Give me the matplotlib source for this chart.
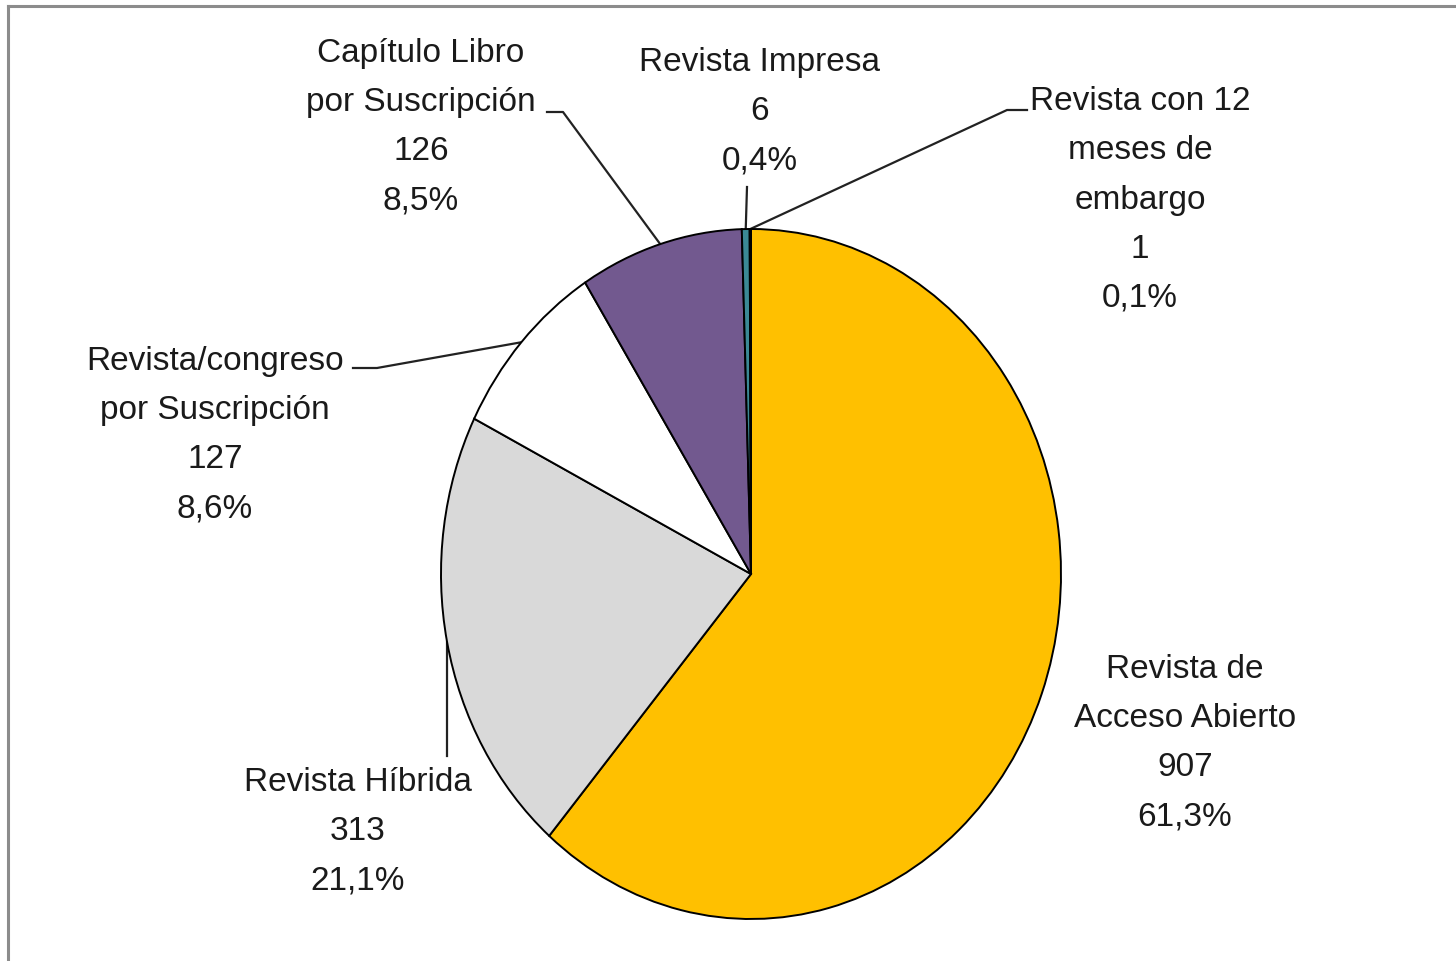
import matplotlib.pyplot as plt
import numpy as np

# slices, clockwise from 12 o'clock
categories = ["Revista de\nAcceso Abierto", "Revista Híbrida", "Revista/congreso\npor Suscripción",
              "Capítulo Libro\npor Suscripción", "Revista Impresa", "Revista con 12\nmeses de\nembargo"]
values = [907, 313, 127, 126, 6, 1]
colors = ["#FFC000", "#D9D9D9", "#FFFFFF", "#72598F", "#3B8995", "#1F3A5A"]

W, H = 1456, 962
CX, CY, RX, RY = 751, 575, 310, 345


def px(x, y):
    return (x - CX) / RX, (CY - y) / RY


fig = plt.figure(figsize=(W / 100, H / 100), dpi=100)
ax = fig.add_axes([0, 0, 1, 1])

wedges, _ = ax.pie(values, colors=colors, startangle=90, counterclock=False, radius=1,
                   wedgeprops=dict(edgecolor="black", linewidth=1.4))
ax.set_aspect("auto")
ax.set_xlim(-CX / RX, (W - CX) / RX)
ax.set_ylim(-(H - CY) / RY, CY / RY)
ax.axis("off")

total = sum(values)
# label centre (px) and leader line points (px) before reaching the wedge
layout = [
    ((1185, 743), None),
    ((358, 832), [(447, 757)]),
    ((215, 435), [(353, 369), (377, 369)]),
    ((421, 127), [(547, 113), (563, 113)]),
    ((760, 112), [(747, 188)]),
    ((1140, 200), [(1027, 111), (1007, 111)]),
]

for w, name, v, (pos, leader) in zip(wedges, categories, values, layout):
    pct = f"{100 * v / total:.1f}%".replace(".", ",")
    ax.text(*px(*pos), f"{name}\n{v}\n{pct}", ha="center", va="center", multialignment="center",
            fontsize=24, family="Liberation Sans", color="#1a1a1a", linespacing=1.76)
    if leader:
        mid = np.deg2rad((w.theta1 + w.theta2) / 2)
        pts = [px(*p) for p in leader] + [(np.cos(mid), np.sin(mid))]
        ax.plot([p[0] for p in pts], [p[1] for p in pts], color="#222222", lw=1.6, zorder=0)

# frame (top and left only, as cropped in the original)
fig.add_artist(plt.Line2D([8 / W, 1], [1 - 7 / H, 1 - 7 / H], color="#8C8C8C", lw=2.2))
fig.add_artist(plt.Line2D([8 / W, 8 / W], [0, 1 - 7 / H], color="#8C8C8C", lw=2.2))

fig.savefig("out.png", dpi=100)
